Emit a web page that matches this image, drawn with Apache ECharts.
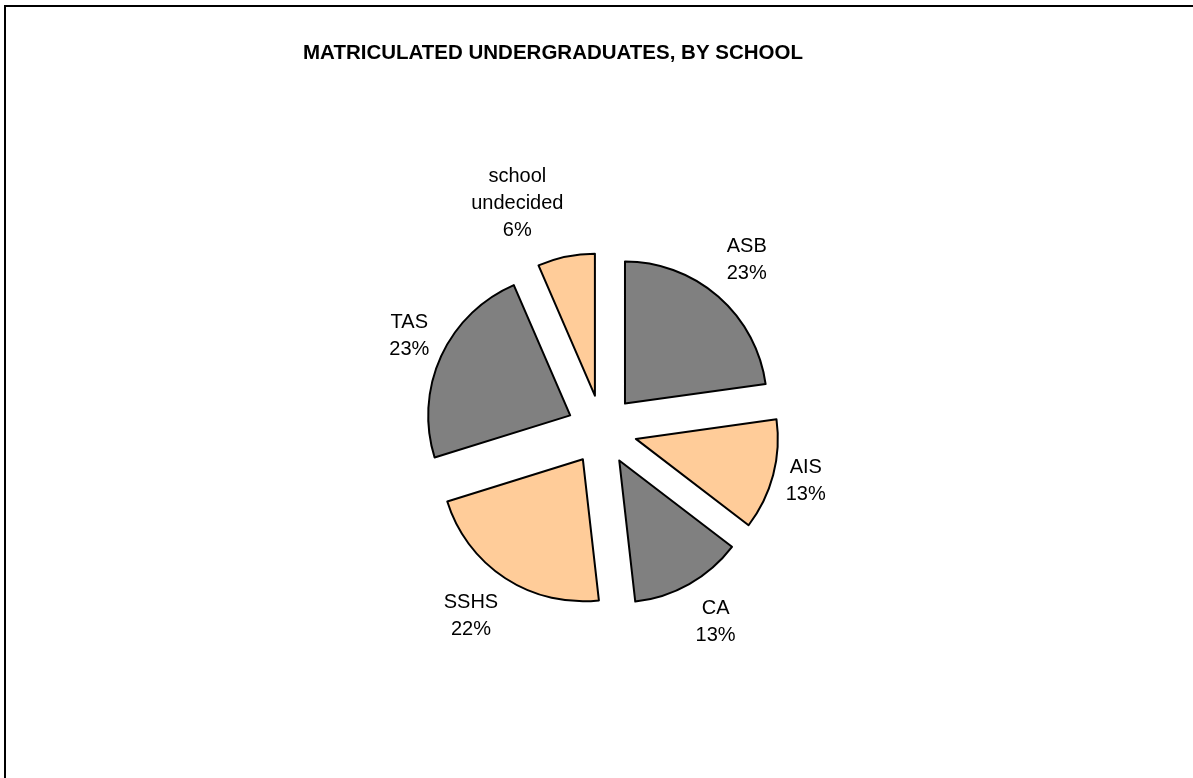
<!DOCTYPE html>
<html>
<head>
<meta charset="utf-8">
<script src="https://cdn.jsdelivr.net/npm/echarts@6/dist/echarts.min.js"></script>
<style>
  html, body { margin: 0; padding: 0; background: #fff; }
  #chart { width: 1193px; height: 778px; }
</style>
</head>
<body>
<div id="chart"></div>
<script>
const titleText = 'MATRICULATED UNDERGRADUATES, BY SCHOOL';
const categories = ['ASB', 'AIS', 'CA', 'SSHS', 'TAS', 'school undecided'];
const values = [22.8, 12.6, 12.8, 22.0, 23.3, 6.5];
const sliceColors = ['#808080', '#FFCC99', '#808080', '#FFCC99', '#808080', '#FFCC99'];

const total = values.reduce((a, b) => a + b, 0);
const midAngles = [];
let cum = 0;
for (const v of values) {
  midAngles.push((cum + v / 2) / total * 2 * Math.PI);
  cum += v;
}
const LABEL_GAP = 13;

function clamp01(x) { return Math.max(0, Math.min(1, x)); }

const chart = echarts.init(document.getElementById('chart'), null, { renderer: 'canvas' });
chart.setOption({
  animation: false,
  backgroundColor: '#ffffff',
  graphic: [{
    type: 'rect',
    silent: true,
    z: -10,
    shape: { x: 5, y: 6, width: 1300, height: 900 },
    style: { fill: '#ffffff', stroke: '#000000', lineWidth: 2 }
  }],
  title: {
    text: titleText,
    left: 553,
    textAlign: 'center',
    top: 43,
    padding: 0,
    textStyle: {
      fontFamily: '"Liberation Sans", Arial, sans-serif',
      fontSize: 20.5,
      fontWeight: 'bold',
      color: '#000000'
    }
  },
  series: [{
    type: 'pie',
    center: [602, 430],
    radius: 142,
    startAngle: 90,
    clockwise: true,
    avoidLabelOverlap: false,
    selectedMode: 'multiple',
    selectedOffset: 35,
    percentPrecision: 0,
    emphasis: { disabled: true },
    itemStyle: { borderColor: '#000000', borderWidth: 2 },
    label: {
      show: true,
      position: 'outside',
      distanceToLabelLine: 0,
      fontFamily: '"Liberation Sans", Arial, sans-serif',
      fontSize: 20,
      lineHeight: 27,
      color: '#000000',
      align: 'center',
      formatter: function (p) {
        return p.name.split(' ').join('\n') + '\n' + p.percent + '%';
      }
    },
    labelLine: { show: false, length: 0, length2: 0 },
    labelLayout: function (p) {
      const a = midAngles[p.dataIndex];
      const sx = Math.sin(a), sy = -Math.cos(a);
      const w = p.labelRect.width, h = p.labelRect.height;
      const fromHoriz = Math.asin(Math.abs(sy)) * 180 / Math.PI;
      const fy = clamp01((fromHoriz - 13) / 22);
      return {
        align: 'center',
        verticalAlign: 'middle',
        dx: sx * LABEL_GAP + Math.sign(sx) * w / 2,
        dy: sy * LABEL_GAP + Math.sign(sy) * h / 2 * fy
      };
    },
    data: categories.map((c, i) => ({
      name: c,
      value: values[i],
      selected: true,
      itemStyle: { color: sliceColors[i] }
    }))
  }]
});
</script>
</body>
</html>
